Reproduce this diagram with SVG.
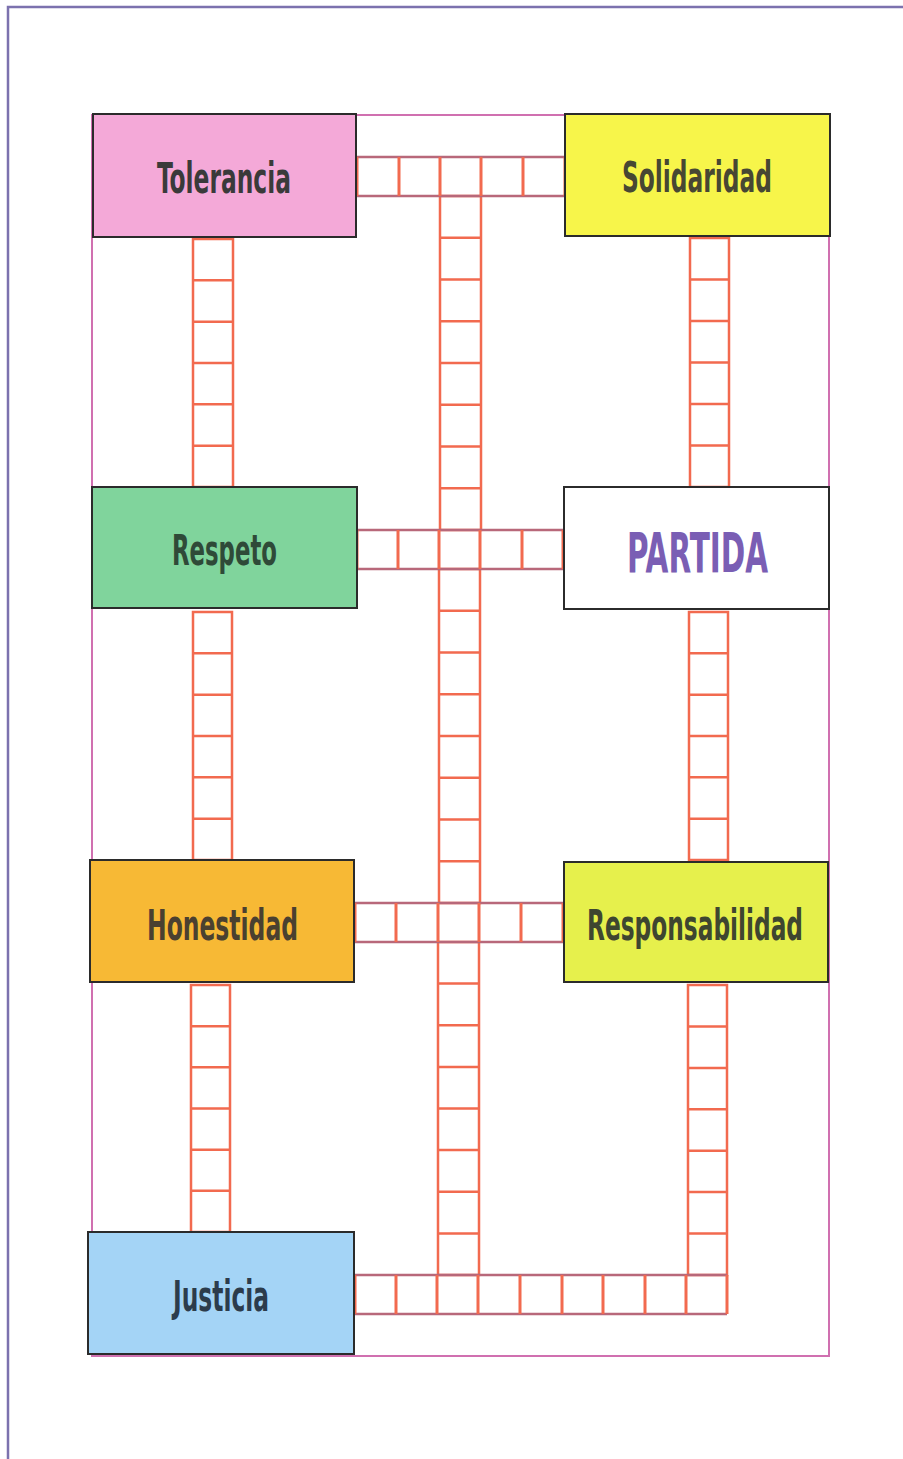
<svg xmlns="http://www.w3.org/2000/svg" width="903" height="1459" viewBox="0 0 903 1459">
<style>
.node{stroke:#2b2b2b;stroke-width:2}
.lbl{font-family:"Liberation Sans Narrow","DejaVu Sans Condensed","Liberation Sans",sans-serif;font-weight:bold;font-size:42px;fill:#3a3a3a;text-anchor:middle}
.col{fill:none;stroke:#f26a4f;stroke-width:2.5}
.rowh{fill:none;stroke:#b8687a;stroke-width:2.5}
.rowv{fill:none;stroke:#f26a4f;stroke-width:3}
</style>
<rect width="903" height="1459" fill="#ffffff"/>
<g id="page">
<path d="M8 1459 V7 H903" fill="none" stroke="#7c72ae" stroke-width="2.5"/>
<rect x="92" y="115" width="737" height="1241" fill="none" stroke="#d070b0" stroke-width="2"/>
</g>
<g id="connectors">
<path class="col" d="M193 239 H233 V487 H193 Z M193 280.3 H233 M193 321.7 H233 M193 363 H233 M193 404.3 H233 M193 445.7 H233"/>
<path class="col" d="M193 612 H232 V860 H193 Z M193 653.3 H232 M193 694.7 H232 M193 736 H232 M193 777.3 H232 M193 818.7 H232"/>
<path class="col" d="M191 985 H230 V1232 H191 Z M191 1026.2 H230 M191 1067.3 H230 M191 1108.5 H230 M191 1149.7 H230 M191 1190.8 H230"/>
<path class="col" d="M690 238 H729 V487 H690 Z M690 279.5 H729 M690 321 H729 M690 362.5 H729 M690 404 H729 M690 445.5 H729"/>
<path class="col" d="M689 612 H728 V860 H689 Z M689 653.3 H728 M689 694.7 H728 M689 736 H728 M689 777.3 H728 M689 818.7 H728"/>
<path class="col" d="M688 985 H727 V1275 H688 Z M688 1026.4 H727 M688 1067.9 H727 M688 1109.3 H727 M688 1150.7 H727 M688 1192.1 H727 M688 1233.6 H727"/>
<path class="col" d="M440 196 H481 V530 H440 Z M440 237.75 H481 M440 279.5 H481 M440 321.25 H481 M440 363 H481 M440 404.75 H481 M440 446.5 H481 M440 488.25 H481"/>
<path class="col" d="M439 569 H480 V903 H439 Z M439 610.75 H480 M439 652.5 H480 M439 694.25 H480 M439 736 H480 M439 777.75 H480 M439 819.5 H480 M439 861.25 H480"/>
<path class="col" d="M438 942 H479 V1275 H438 Z M438 983.6 H479 M438 1025.3 H479 M438 1066.9 H479 M438 1108.5 H479 M438 1150.1 H479 M438 1191.8 H479 M438 1233.4 H479"/>
<path class="rowh" d="M357 157 H565 M357 196 H565"/>
<path class="rowv" d="M357 157 V196 M399 157 V196 M440 157 V196 M481 157 V196 M523 157 V196 M565 157 V196"/>
<path class="rowh" d="M357 530 H563 M357 569 H563"/>
<path class="rowv" d="M357 530 V569 M398 530 V569 M439 530 V569 M480 530 V569 M522 530 V569 M563 530 V569"/>
<path class="rowh" d="M355 903 H563 M355 942 H563"/>
<path class="rowv" d="M355 903 V942 M396 903 V942 M438 903 V942 M479 903 V942 M521 903 V942 M563 903 V942"/>
<path class="rowh" d="M355 1275 H727 M355 1314 H727"/>
<path class="rowv" d="M355 1275 V1314 M396 1275 V1314 M437 1275 V1314 M478 1275 V1314 M520 1275 V1314 M562 1275 V1314 M603 1275 V1314 M645 1275 V1314 M686 1275 V1314 M727 1275 V1314"/>
</g>
<g id="tolerancia">
<rect class="node" x="93" y="114" width="263" height="123" fill="#f4a9d8"/>
<text class="lbl" x="224" y="193" textLength="134" lengthAdjust="spacingAndGlyphs">Tolerancia</text>
</g>
<g id="solidaridad">
<rect class="node" x="565" y="114" width="265" height="122" fill="#f7f54a"/>
<text class="lbl" x="697" y="192" textLength="150" lengthAdjust="spacingAndGlyphs" style="fill:#474733">Solidaridad</text>
</g>
<g id="respeto">
<rect class="node" x="92" y="487" width="265" height="121" fill="#80d49c"/>
<text class="lbl" x="224.5" y="565" textLength="105" lengthAdjust="spacingAndGlyphs" style="fill:#2f4a38">Respeto</text>
</g>
<g id="partida">
<rect class="node" x="564" y="487" width="265" height="122" fill="#ffffff"/>
<text class="lbl" x="697.5" y="572" textLength="141" lengthAdjust="spacingAndGlyphs" style="font-size:56px;fill:#7a5eb4">PARTIDA</text>
</g>
<g id="honestidad">
<rect class="node" x="90" y="860" width="264" height="122" fill="#f7b935"/>
<text class="lbl" x="222.5" y="940" textLength="151" lengthAdjust="spacingAndGlyphs" style="fill:#4a4030">Honestidad</text>
</g>
<g id="responsabilidad">
<rect class="node" x="564" y="862" width="264" height="120" fill="#e6f04c"/>
<text class="lbl" x="695" y="940" textLength="216" lengthAdjust="spacingAndGlyphs" style="fill:#3e4630">Responsabilidad</text>
</g>
<g id="justicia">
<rect class="node" x="88" y="1232" width="266" height="122" fill="#a4d4f6"/>
<text class="lbl" x="221" y="1311" textLength="96" lengthAdjust="spacingAndGlyphs" style="fill:#2c3c4c">Justicia</text>
</g>
</svg>
